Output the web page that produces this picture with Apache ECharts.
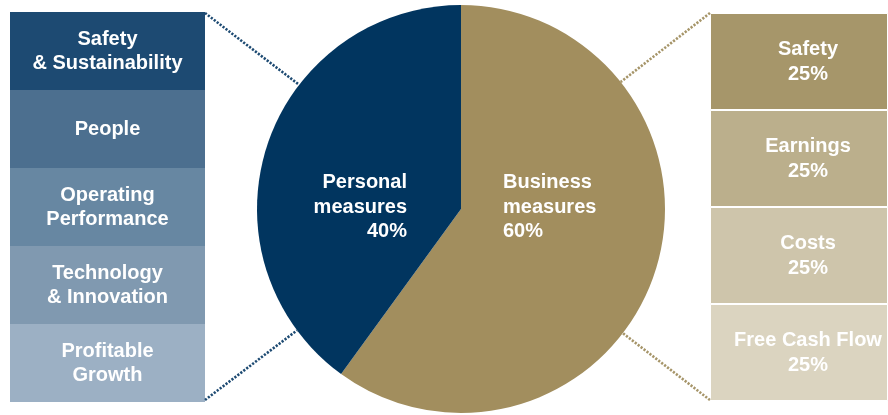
<!DOCTYPE html>
<html>
<head>
<meta charset="utf-8">
<script src="https://cdn.jsdelivr.net/npm/echarts@6/dist/echarts.min.js"></script>
<style>
html,body{margin:0;padding:0;background:#fff;}
#chart{width:888px;height:415px;}
</style>
</head>
<body>
<div id="chart"></div>
<script>
// ---- data ----
var pieNames = ['Business\nmeasures', 'Personal\nmeasures'];
var pieValues = [60, 40];

var personalNames = ['Safety\n& Sustainability', 'People', 'Operating\nPerformance', 'Technology\n& Innovation', 'Profitable\nGrowth'];
var personalValues = [8, 8, 8, 8, 8];

var businessNames = ['Safety', 'Earnings', 'Costs', 'Free Cash Flow'];
var businessValues = [25, 25, 25, 25];

// ---- styles ----
var FONT = '"Liberation Sans", Arial, sans-serif';
var pieColors = ['#A28E5E', '#01355F'];
var personalColors = ['#1D4A72', '#4C6F8F', '#6787A2', '#8099B0', '#9CB0C4'];
var businessColors = ['#A6966A', '#BBAF8C', '#CEC5AB', '#DBD4C0'];

var PIE_C = [461, 209], PIE_R = 204;
var L_BOX = {left: 10, top: 12, width: 195, height: 390};
var R_BOX = {left: 710, top: 13, width: 196, height: 388};

var series = [];
personalNames.forEach(function (n, i) {
  series.push({
    type: 'bar', xAxisIndex: 0, yAxisIndex: 0, stack: 'p', name: n,
    data: [personalValues[i]], barWidth: '100%', silent: true,
    itemStyle: {color: personalColors[i]},
    label: {show: true, position: 'inside', formatter: n, color: '#fff',
      fontFamily: FONT, fontWeight: 'bold', fontSize: 20, lineHeight: 24}
  });
});
businessNames.forEach(function (n, i) {
  series.push({
    type: 'bar', xAxisIndex: 1, yAxisIndex: 1, stack: 'b', name: n,
    data: [businessValues[i]], barWidth: '100%', silent: true,
    itemStyle: {color: businessColors[i], borderColor: '#fff', borderWidth: 1},
    label: {show: true, position: 'inside', offset: [9, 0], formatter: n + '\n' + businessValues[i] + '%', color: '#fff',
      fontFamily: FONT, fontWeight: 'bold', fontSize: 20, lineHeight: 25}
  });
});
series.push({
  type: 'pie', center: PIE_C, radius: PIE_R, startAngle: 90, clockwise: true, silent: true,
  data: pieNames.map(function (n, i) { return {name: n, value: pieValues[i], itemStyle: {color: pieColors[i]}}; }),
  label: {show: true, position: 'inside', color: '#fff', fontFamily: FONT, fontWeight: 'bold',
    fontSize: 20, lineHeight: 24.5,
    formatter: function (p) { return p.name + '\n' + p.value + '%'; }},
  labelLine: {show: false},
  labelLayout: function (p) {
    if (p.dataIndex === 0) return {x: PIE_C[0] + 42, y: PIE_C[1] - 2, align: 'left', verticalAlign: 'middle'};
    return {x: PIE_C[0] - 54, y: PIE_C[1] - 2, align: 'right', verticalAlign: 'middle'};
  }
});

function onCircle(deg) {
  var a = deg * Math.PI / 180;
  return [PIE_C[0] + PIE_R * Math.cos(a), PIE_C[1] - PIE_R * Math.sin(a)];
}
function dotLine(p1, p2, color) {
  return {type: 'line', shape: {x1: p1[0], y1: p1[1], x2: p2[0], y2: p2[1]}, silent: true, z: 10,
    style: {stroke: color, lineWidth: 2.6, lineDash: [2.2, 1.5]}};
}
var lt = onCircle(142.5), lb = onCircle(216.5), rt = onCircle(38.5), rb = onCircle(-37.5);
var lx = L_BOX.left + L_BOX.width, rx = R_BOX.left;
var lTop = 13, lBot = 400;

var chart = echarts.init(document.getElementById('chart'), null, {renderer: 'canvas'});
chart.setOption({
  animation: false,
  backgroundColor: '#fff',
  grid: [
    {left: L_BOX.left, top: L_BOX.top, width: L_BOX.width, height: L_BOX.height},
    {left: R_BOX.left, top: R_BOX.top, width: R_BOX.width, height: R_BOX.height}
  ],
  xAxis: [
    {type: 'category', gridIndex: 0, data: ['Personal'], show: false},
    {type: 'category', gridIndex: 1, data: ['Business'], show: false}
  ],
  yAxis: [
    {type: 'value', gridIndex: 0, inverse: true, min: 0, max: 40, show: false},
    {type: 'value', gridIndex: 1, inverse: true, min: 0, max: 100, show: false}
  ],
  series: series,
  graphic: [
    dotLine([lx, lTop], lt, '#1D4A72'),
    dotLine([lx, lBot], lb, '#1D4A72'),
    dotLine([rx, lTop], rt, '#A69569'),
    dotLine([rx, lBot], rb, '#A69569')
  ]
});
</script>
</body>
</html>
